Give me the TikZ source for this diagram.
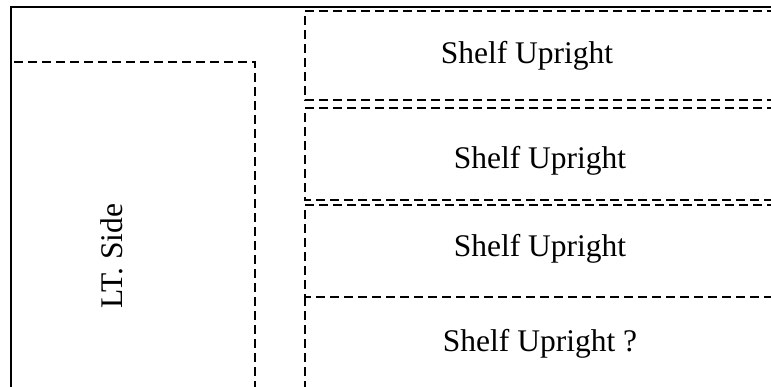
\documentclass[tikz,border=0pt]{standalone}
\usepackage{fontspec}
\setmainfont{Liberation Serif}
\usepackage{tikz}
\usetikzlibrary{positioning, calc}

\begin{document}
\begin{tikzpicture}[x=1pt, y=-1pt,
		wall/.style = {line width=2.4pt},
		part/.style = {line width=2.2pt, dash pattern=on 9pt off 5pt},
		partname/.style = {anchor=base, inner sep=0pt, font=\fontsize{31.5}{36}\selectfont}]
	\clip (0,0) rectangle (771,386);
	% frame
	\draw[wall] (780,7) -- (11,7) -- (11,395);
	% left side panel
	\draw[part] (11,395) -- (11,62) -- (255,62) -- (255,395);
	\node[partname, rotate=90] (ltside) at (122,256) {LT. Side};
	% shelf uprights
	\draw[part] (790,11) -- (305,11) -- (305,100) -- (790,100);
	\draw[part] (790,108) -- (305,108) -- (305,200) -- (790,200);
	\draw[part] (790,205) -- (305,205) -- (305,297) -- (790,297);
	\draw[part] (305,297) -- (305,395);
	\node[partname] (shelfA) at (527,63) {Shelf Upright};
	\node[partname] (shelfB) at (540,168) {Shelf Upright};
	\node[partname] (shelfC) at (540,256) {Shelf Upright};
	\node[partname] (shelfD) at (540,351) {Shelf Upright ?};
\end{tikzpicture}
\end{document}
